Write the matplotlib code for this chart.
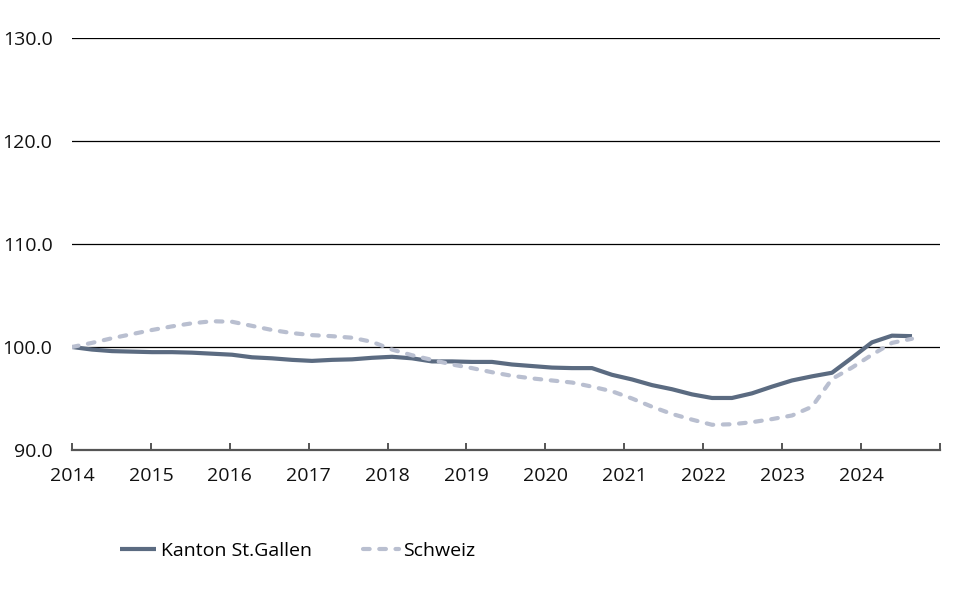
import numpy as np
import matplotlib
matplotlib.use("Agg")
import matplotlib.pyplot as plt

plt.rcParams['font.family'] = ['Open Sans', 'DejaVu Sans']

# quarterly index values, 2014 Q1 = 100
quarters = [f"{y}Q{q}" for y in range(2014, 2025) for q in range(1, 5)][:43]

st_gallen = [100.0, 99.75, 99.6, 99.55, 99.5, 99.5, 99.45, 99.35, 99.25, 99.0,
             98.9, 98.75, 98.65, 98.75, 98.8, 98.95, 99.05, 98.9, 98.6, 98.6,
             98.55, 98.55, 98.3, 98.15, 98.0, 97.95, 97.95, 97.3, 96.85, 96.3,
             95.9, 95.4, 95.05, 95.05, 95.5, 96.15, 96.75, 97.15, 97.5, 98.95,
             100.45, 101.1, 101.05]

schweiz = [100.0, 100.4, 100.85, 101.25, 101.65, 102.0, 102.3, 102.5, 102.45, 102.05,
           101.65, 101.35, 101.15, 101.05, 100.9, 100.5, 99.75, 99.2, 98.75, 98.3,
           97.95, 97.55, 97.2, 96.95, 96.75, 96.55, 96.15, 95.7, 95.0, 94.2,
           93.5, 92.95, 92.45, 92.5, 92.7, 93.0, 93.35, 94.2, 96.9, 98.0,
           99.25, 100.4, 100.8]

years = list(range(2014, 2026))
year_labels = [str(y) for y in range(2014, 2025)] + [""]
y_ticks = [90, 100, 110, 120, 130]

# position of each quarter on the year axis
step = 0.2535
x = 2014 + np.arange(len(quarters)) * step

fig = plt.figure(figsize=(9.6, 5.95), dpi=100)
ax = fig.add_axes([0.075, 0.2437, 0.904, 0.6925])

for yv in y_ticks[1:]:
    ax.axhline(yv, color='black', lw=0.9, zorder=1)

ax.plot(x, st_gallen, color='#5b6b81', lw=3, solid_capstyle='butt',
        label='Kanton St.Gallen', zorder=2)
ax.plot(x, schweiz, color='#b9bfd0', lw=3, dashes=(1.6, 2.3),
        dash_capstyle='round', label='Schweiz', zorder=3)

ax.set_xlim(2014, 2025)
ax.set_ylim(90, 130)
ax.set_xticks(years)
ax.set_xticklabels(year_labels)
ax.set_yticks(y_ticks)
ax.set_yticklabels([f"{v:.1f}" for v in y_ticks])

for s in ['top', 'right', 'left']:
    ax.spines[s].set_visible(False)
ax.spines['bottom'].set_color('#555555')
ax.spines['bottom'].set_linewidth(1.6)
ax.spines['bottom'].set_zorder(4)

ax.tick_params(axis='x', direction='in', length=5, width=1.4, color='#555555',
               labelsize=14, pad=12, labelcolor='#111111')
ax.tick_params(axis='y', length=0, labelsize=14, pad=14, labelcolor='#111111')

fig.legend(loc='lower left', bbox_to_anchor=(0.107, 0.03), ncol=2, frameon=False,
           fontsize=14, handlelength=1.85, handletextpad=0.25, columnspacing=2.6)

fig.savefig('out.png', dpi=100)
